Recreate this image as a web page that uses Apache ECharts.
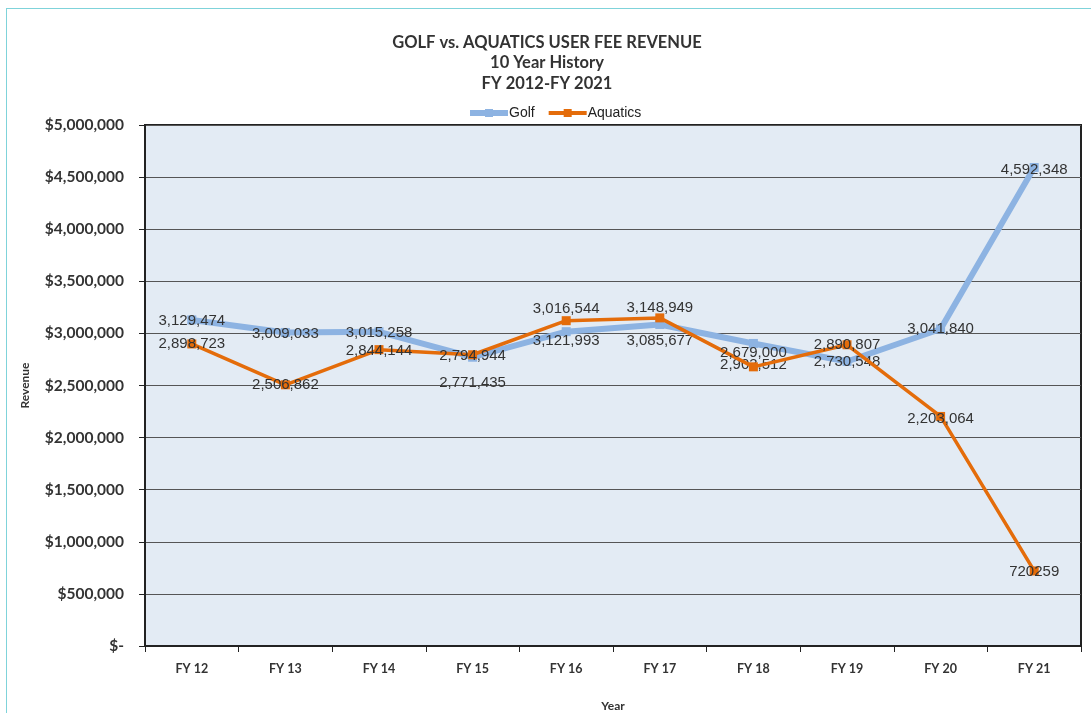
<!DOCTYPE html>
<html>
<head>
<meta charset="utf-8">
<script src="https://cdn.jsdelivr.net/npm/echarts@6/dist/echarts.min.js"></script>
<style>
  html, body { margin: 0; padding: 0; background: #fff; }
  #frame { position: absolute; left: 6px; top: 8px; width: 1100px; height: 720px;
    border-top: 1px solid #7fd3da; border-left: 1px solid #7fd3da; }
  #chart { position: absolute; left: 0; top: 0; width: 1091px; height: 713px; }
</style>
</head>
<body>
<div id="frame"></div>
<div id="chart"></div>
<script>
// fiscal years and revenue per program
const years = ['FY 12', 'FY 13', 'FY 14', 'FY 15', 'FY 16', 'FY 17', 'FY 18', 'FY 19', 'FY 20', 'FY 21'];
const golf = [3129474, 3009033, 3015258, 2771435, 3016544, 3085677, 2903512, 2730548, 3041840, 4592348];
const aquatics = [2898723, 2506862, 2844144, 2794944, 3121993, 3148949, 2679000, 2890807, 2203064, 720259];
const yTicks = [0, 500000, 1000000, 1500000, 2000000, 2500000, 3000000, 3500000, 4000000, 4500000, 5000000];

// the labels were nudged by hand in the original, keep those shifts here
const golfLabelDy = [1, 1, 1, 26, -23, 16, 21, 0, 0, 2];
const aquaticsLabelDy = [0, 0, 1, 1, 20, -10, -14, 0, 2, 1];

const fmt = v => v.toLocaleString('en-US');

const chart = echarts.init(document.getElementById('chart'));

function points(values, shifts, plain) {
  return values.map((v, i) => ({
    value: v,
    label: {
      offset: [0, shifts[i]],
      formatter: () => (plain && v < 1000000 ? String(v) : fmt(v))
    }
  }));
}

const labelStyle = {
  show: true,
  position: 'inside',
  color: '#333',
  fontFamily: 'Liberation Sans, Arial',
  fontSize: 15
};

chart.setOption({
  animation: false,
  title: {
    text: 'GOLF vs. AQUATICS USER FEE REVENUE\n10 Year History\nFY 2012-FY 2021',
    left: 542,
    top: 27,
    textAlign: 'center',
    textStyle: {
      fontFamily: 'Lato',
      fontWeight: 'bold',
      fontSize: 16.5,
      lineHeight: 20.5,
      color: '#333'
    }
  },
  legend: {
    top: 101,
    left: 462,
    itemWidth: 38,
    itemHeight: 10,
    itemGap: 12,
    textStyle: { fontFamily: 'Liberation Sans, Arial', fontSize: 14, color: '#222', padding: [0, 0, 0, -4] },
    data: [
      { name: 'Golf', itemStyle: { color: '#8db3e2' }, lineStyle: { width: 6 } },
      { name: 'Aquatics', itemStyle: { color: '#e46c0a' }, lineStyle: { width: 4 } }
    ]
  },
  grid: {
    left: 145,
    right: 10,
    top: 125,
    bottom: 67,
    outerBoundsMode: 'none',
    show: true,
    backgroundColor: '#e3ebf4',
    borderColor: '#222',
    borderWidth: 2
  },
  xAxis: {
    type: 'category',
    data: years,
    boundaryGap: true,
    name: 'Year',
    nameLocation: 'middle',
    nameGap: 54,
    nameTextStyle: { fontFamily: 'Lato', fontWeight: 'bold', fontSize: 12, color: '#333' },
    axisLine: { lineStyle: { color: '#222', width: 2 } },
    axisTick: { show: true, length: 6, lineStyle: { color: '#222', width: 1 } },
    axisLabel: { margin: 16, fontFamily: 'Lato', fontWeight: 'bold', fontSize: 12.5, color: '#333' }
  },
  yAxis: {
    type: 'value',
    min: yTicks[0],
    max: yTicks[yTicks.length - 1],
    interval: yTicks[1] - yTicks[0],
    name: 'Revenue',
    nameLocation: 'middle',
    nameRotate: 90,
    nameGap: 114,
    nameTextStyle: { fontFamily: 'Lato', fontWeight: 'bold', fontSize: 12, color: '#333' },
    axisLine: { show: true, lineStyle: { color: '#222', width: 2 } },
    axisTick: { show: true, length: 6, lineStyle: { color: '#222', width: 1 } },
    splitLine: { lineStyle: { color: '#555', width: 1 } },
    axisLabel: {
      margin: 21,
      fontFamily: 'Lato',
      fontWeight: 'bold',
      fontSize: 15.5,
      color: '#333',
      formatter: v => (v === 0 ? '$-' : '$' + fmt(v))
    }
  },
  series: [
    {
      name: 'Golf',
      type: 'line',
      data: points(golf, golfLabelDy, false),
      symbol: 'rect',
      symbolSize: 9,
      itemStyle: { color: '#8db3e2' },
      lineStyle: { color: '#8db3e2', width: 6 },
      label: labelStyle,
      z: 2
    },
    {
      name: 'Aquatics',
      type: 'line',
      data: points(aquatics, aquaticsLabelDy, true),
      symbol: 'rect',
      symbolSize: 9,
      itemStyle: { color: '#e46c0a' },
      lineStyle: { color: '#e46c0a', width: 3.5 },
      label: labelStyle,
      z: 3
    }
  ]
});
</script>
</body>
</html>
